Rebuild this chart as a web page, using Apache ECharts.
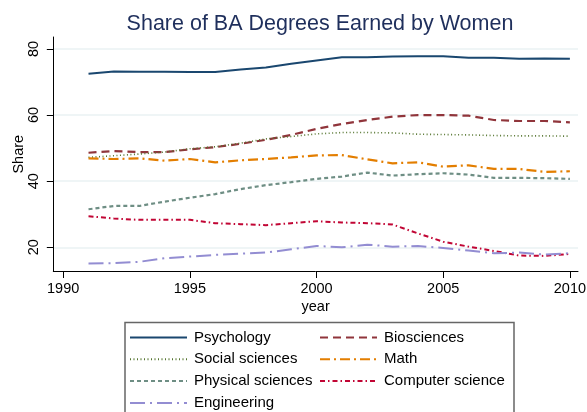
<!DOCTYPE html>
<html lang="en">
<head>
  <meta charset="UTF-8">
  <title>Share of BA Degrees Earned by Women</title>
  <script src="https://cdn.jsdelivr.net/npm/echarts@6/dist/echarts.min.js"></script>
  <style>
    html,body{margin:0;padding:0;background:#fff;}
    #main{width:587px;height:412px;}
  </style>
</head>
<body>
  <div id="main"></div>
  <script>
    // data
    var years = [1991,1992,1993,1994,1995,1996,1997,1998,1999,2000,2001,2002,2003,2004,2005,2006,2007,2008,2009,2010];
    var psychology   = [72.5,73.2,73.1,73.1,73.0,73.0,73.8,74.4,75.5,76.5,77.5,77.5,77.7,77.8,77.8,77.3,77.3,77.0,77.1,77.0];
    var biosciences  = [48.6,49.1,48.8,48.8,49.6,50.3,51.3,52.5,54.0,55.8,57.3,58.5,59.5,60.0,60.0,59.8,58.5,58.2,58.2,57.8];
    var socialSci    = [47.2,47.7,48.2,48.8,49.8,50.4,51.5,52.8,53.5,54.3,54.7,54.7,54.6,54.2,54.1,54.0,53.8,53.7,53.7,53.6];
    var math         = [46.9,46.7,46.9,46.2,46.7,45.7,46.3,46.7,47.2,47.8,47.9,46.6,45.4,45.7,44.4,44.8,43.7,43.7,42.8,43.0];
    var physicalSci  = [31.5,32.5,32.5,33.8,35.0,36.1,37.6,38.8,39.7,40.7,41.4,42.6,41.7,42.1,42.4,42.0,41.0,41.0,40.9,40.7];
    var compSci      = [29.4,28.7,28.3,28.3,28.3,27.3,27.0,26.7,27.3,27.9,27.5,27.3,26.9,24.2,21.7,20.2,18.9,17.5,17.4,18.0];
    var engineering  = [15.1,15.2,15.6,16.7,17.2,17.7,18.1,18.4,19.4,20.4,20.0,20.8,20.2,20.4,19.8,19.0,18.2,18.4,17.8,18.2];
    var xTicks = [1990,1995,2000,2005,2010];
    var yTicks = [20,40,60,80];

    function pairs(vals){
      var out = [];
      for(var i=0;i<years.length;i++){
        out.push([years[i], vals[i]]);
      }
      return out;
    }
    function mkLine(name, vals, color, width, type){
      return {
        name: name,
        type: 'line',
        data: pairs(vals),
        symbol: 'none',
        showSymbol: false,
        animation: false,
        lineStyle: {color: color, width: width, type: type},
        itemStyle: {color: color}
      };
    }

    var font = 'Liberation Sans, Arial, sans-serif';
    var legendBase = {
      orient: 'vertical',
      top: 330,
      padding: 0,
      itemWidth: 57,
      itemHeight: 14,
      itemGap: 6.8,
      itemStyle: {opacity: 0},
      textStyle: {color: '#000', fontSize: 15, fontFamily: font, padding: [0,0,0,2]}
    };
    var myChart = echarts.init(document.getElementById('main'));
    var option = {
      backgroundColor: '#fff',
      animation: false,
      title: {
        text: 'Share of BA Degrees Earned by Women',
        left: 320,
        textAlign: 'center',
        top: 13,
        padding: 0,
        textStyle: {color: '#1f2f5c', fontSize: 21.5, fontWeight: 'normal', fontFamily: font}
      },
      grid: {left: 53.3, right: 9, top: 37, bottom: 140.5, containLabel: false, outerBoundsMode: 'none'},
      xAxis: {
        type: 'value',
        min: 1989.61,
        max: 2010.32,
        name: 'year',
        nameLocation: 'middle',
        nameGap: 28,
        nameMoveOverlap: false,
        nameTextStyle: {color: '#000', fontSize: 14.5, fontFamily: font},
        axisLine: {show: true, onZero: false, lineStyle: {color: '#000', width: 1}},
        axisTick: {show: true, length: 6.5, customValues: xTicks, lineStyle: {color: '#000'}},
        axisLabel: {customValues: xTicks, margin: 10, color: '#000', fontSize: 14.5, fontFamily: font,
          formatter: function(v){ return String(v); }},
        splitLine: {show: false}
      },
      yAxis: {
        type: 'value',
        min: 12.68,
        max: 83.6,
        name: 'Share',
        nameLocation: 'middle',
        nameGap: 27,
        nameMoveOverlap: false,
        nameTextStyle: {color: '#000', fontSize: 14.5, fontFamily: font},
        axisLine: {show: true, onZero: false, lineStyle: {color: '#000', width: 1}},
        axisTick: {show: true, length: 6.5, customValues: yTicks, lineStyle: {color: '#000'}},
        axisLabel: {customValues: yTicks, rotate: 90, margin: 12, color: '#000', fontSize: 14.5, fontFamily: font},
        splitLine: {show: true, lineStyle: {color: '#eaf2f3', width: 1.5}}
      },
      legend: [
        Object.assign({}, legendBase, {
          id: 'legLeft',
          left: 129,
          data: ['Psychology','Social sciences','Physical sciences','Engineering']
        }),
        Object.assign({}, legendBase, {
          id: 'legRight',
          left: 319,
          data: ['Biosciences','Math','Computer science']
        })
      ],
      graphic: [{
        type: 'rect',
        left: 122.5,
        top: 320,
        shape: {width: 389, height: 110},
        style: {fill: 'none', stroke: '#666', lineWidth: 1.5},
        silent: true
      }],
      series: [
        mkLine('Psychology', psychology, '#1a476f', 2, 'solid'),
        mkLine('Biosciences', biosciences, '#90353b', 2.2, [8,5]),
        mkLine('Social sciences', socialSci, '#55752f', 1.6, [1,2.5]),
        mkLine('Math', math, '#e37e00', 2.2, [10,4,2,4]),
        mkLine('Physical sciences', physicalSci, '#6e8e84', 2.2, [4,3]),
        mkLine('Computer science', compSci, '#c10534', 2, [5,3,1.5,3]),
        mkLine('Engineering', engineering, '#938dd2', 2, [15,5,2,5])
      ]
    };
    myChart.setOption(option);
  </script>
</body>
</html>
